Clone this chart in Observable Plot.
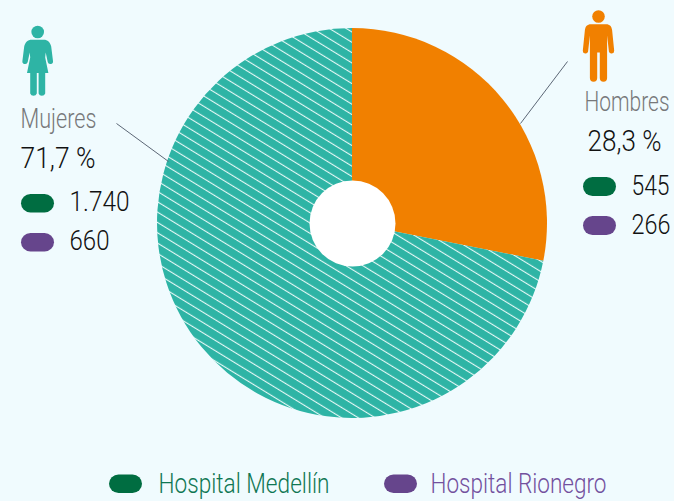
<!DOCTYPE html>
<html><head><meta charset="utf-8">
<script src="https://cdn.jsdelivr.net/npm/d3@7"></script>
<script src="https://cdn.jsdelivr.net/npm/@observablehq/plot@0.6"></script>
<style>html,body{margin:0;padding:0;background:#f0fbfe;overflow:hidden}svg{display:block}</style>
</head><body><div id="chart"></div>
<script>
const sexes = ["Hombres", "Mujeres"];
const shares = [28.1, 71.9];
const shareLabels = ["28,3 %", "71,7 %"];
const medellin = ["545", "1.740"];
const rionegro = ["266", "660"];
const hospitals = ["Hospital Medellín", "Hospital Rionegro"];

const FONT = "Roboto,'Liberation Sans',sans-serif";
const TEAL = "#2eb4a5", ORANGE = "#f18000", GREEN = "#006d41", PURPLE = "#66458c";
const BG = "#f0fbfe";
const W = 674, H = 501;
const cx = 352, cy = 223, R = 195, hole = 43;

const man = "M-7.5,24.3H7.5C11.5,24.3 13,26.5 13.6,30L15.7,50.8A2.7,2.7 0 0 1 10.4,51.6L8.6,35.5V78A3.6,3.6 0 0 1 1.3,78V52.5H-1.3V78A3.6,3.6 0 0 1 -8.6,78V35.5L-10.4,51.6A2.7,2.7 0 0 1 -15.7,50.8L-13.6,30C-13,26.5 -11.5,24.3 -7.5,24.3Z";
const woman = "M-6,24.3H6C10,24.3 12.5,27 13.5,31L15.3,45.5A2.7,2.7 0 0 1 10,46.5L8,37L7.5,42L10.7,57.5H7.5V78A3.5,3.5 0 0 1 0.9,78V57.5H-0.9V78A3.5,3.5 0 0 1 -7.5,78V57.5H-10.7L-7.5,42L-8,37L-10,46.5A2.7,2.7 0 0 1 -15.3,45.5L-13.5,31C-12.5,27 -10,24.3 -6,24.3Z";

function pieMark(index, {x, y}) {
  const g = d3.create("svg:g");
  const defs = g.append("defs");
  const period = 8.8;
  const pat = defs.append("pattern").attr("id", "stripes").attr("patternUnits", "userSpaceOnUse")
    .attr("width", period).attr("height", period).attr("patternTransform", "rotate(31.5)");
  pat.append("rect").attr("width", period).attr("height", period).attr("fill", TEAL);
  pat.append("rect").attr("y", 3.8).attr("width", period).attr("height", 1.1).attr("fill", "#e6f8f6");
  const arcs = d3.pie().sort(null)(shares);
  const arc = d3.arc().innerRadius(0).outerRadius(R);
  g.append("g").attr("transform", `translate(${x(cx)},${y(cy)})`)
    .selectAll("path").data(arcs).join("path")
    .attr("d", arc)
    .attr("fill", (d, i) => i === 0 ? ORANGE : "url(#stripes)");
  return g.node();
}
function iconMark(path, px, py, fill) {
  return (index, {x, y}) => {
    const g = d3.create("svg:g").attr("transform", `translate(${x(px)},${y(py)})`).attr("fill", fill);
    g.append("circle").attr("cy", 16.5).attr("r", 6.3);
    g.append("path").attr("d", path);
    return g.node();
  };
}
// Reference text is a light condensed face: fit each text to its measured width.
const fits = new Map();
const txt = (s, px, py, fill, size, width) => {
  fits.set(s, width);
  return Plot.text([s], {
    x: () => px, y: () => py, text: d => d, fill, fontSize: size, fontWeight: 300,
    textAnchor: "start", lineAnchor: "middle", fontFamily: FONT
  });
};
const pill = (x1, x2, y1, y2, fill) => Plot.rect([0], {
  x1: () => x1, x2: () => x2, y1: () => y1, y2: () => y2, fill, rx: 9.5
});

const plot = Plot.plot({
  width: W, height: H, margin: 0,
  style: {background: BG, fontFamily: FONT},
  x: {type: "linear", domain: [0, W], range: [0, W], axis: null},
  y: {type: "linear", domain: [0, H], range: [0, H], axis: null},
  marks: [
    pieMark,
    Plot.dot([0], {x: () => cx, y: () => cy, r: hole, fill: "#ffffff"}),
    Plot.link([0], {x1: () => 116, y1: () => 123, x2: () => 168, y2: () => 161, stroke: "#5c6776", strokeWidth: 1}),
    Plot.link([0], {x1: () => 567, y1: () => 61, x2: () => 520, y2: () => 123, stroke: "#5c6776", strokeWidth: 1}),
    iconMark(woman, 37.7, 15.5, TEAL),
    iconMark(man, 598.5, 0, ORANGE),
    txt(sexes[1], 20, 119, "#77787a", 28, 76),
    txt(shareLabels[1], 20, 158, "#111111", 29, 75),
    pill(21, 54, 194, 212.5, GREEN),
    pill(21, 54, 233, 251.5, PURPLE),
    txt(medellin[1], 69, 202, "#111111", 28, 60),
    txt(rionegro[1], 69, 241, "#111111", 28, 40),
    txt(sexes[0], 584, 102, "#77787a", 28, 85),
    txt(shareLabels[0], 587, 141, "#111111", 29, 74),
    pill(583, 616, 177, 196, GREEN),
    pill(583, 616, 216, 235, PURPLE),
    txt(medellin[0], 631, 186, "#111111", 28, 38),
    txt(rionegro[0], 631, 225, "#111111", 28, 39),
    pill(109, 142, 474.5, 493, GREEN),
    pill(384, 417, 474.5, 493, PURPLE),
    txt(hospitals[0], 158, 484, "#0f7753", 27, 171),
    txt(hospitals[1], 430, 484, "#73519e", 27, 176)
  ]
});
d3.select(plot).selectAll("text").each(function () {
  const w = fits.get(this.textContent);
  if (w) d3.select(this).attr("textLength", w).attr("lengthAdjust", "spacingAndGlyphs");
});
document.getElementById("chart").append(plot);
</script></body></html>
